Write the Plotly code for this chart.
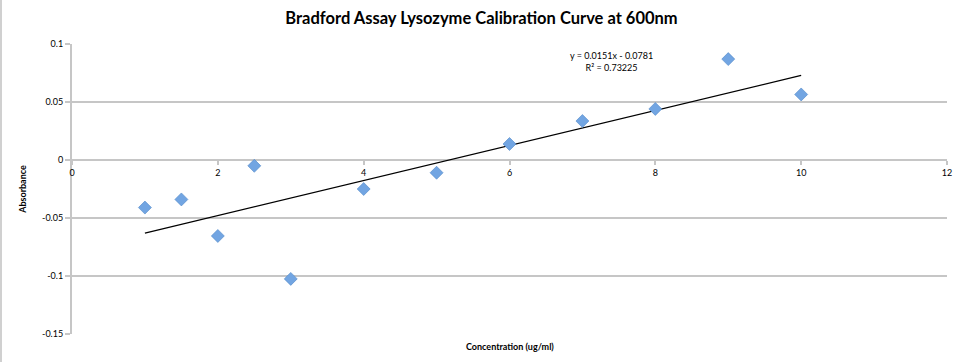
import plotly.graph_objects as go

# Data
concentration = [1, 1.5, 2, 2.5, 3, 4, 5, 6, 7, 8, 9, 10]
absorbance = [-0.041, -0.034, -0.0655, -0.005, -0.1025, -0.025, -0.011, 0.0138, 0.0336, 0.044, 0.087, 0.0565]
slope = 0.0151
intercept = -0.0781
r_squared = 0.73225
x_ticks = [0, 2, 4, 6, 8, 10, 12]
x_tick_labels = ["0", "2", "4", "6", "8", "10", "12"]
y_ticks = [0.1, 0.05, 0, -0.05, -0.1, -0.15]
y_tick_labels = ["0.1", "0.05", "0", "-0.05", "-0.1", "-0.15"]

trend_x = [min(concentration), max(concentration)]
trend_y = [slope * v + intercept for v in trend_x]

FONT = "Lato"
GRID = "#c6c6c6"

fig = go.Figure()
fig.add_trace(go.Scatter(
    x=trend_x, y=trend_y, mode="lines",
    line=dict(color="black", width=1.2), showlegend=False, hoverinfo="skip"))
fig.add_trace(go.Scatter(
    x=concentration, y=absorbance, mode="markers",
    marker=dict(symbol="diamond", size=10, color="#72a5e2",
                line=dict(color="#5088c8", width=0.6)),
    showlegend=False))

fig.update_layout(
    width=963, height=362,
    margin=dict(l=72, r=16, t=44, b=28, autoexpand=False),
    paper_bgcolor="white", plot_bgcolor="white",
    font=dict(family=FONT, size=9, color="black"),
    title=dict(text="<b>Bradford Assay Lysozyme Calibration Curve at 600nm</b>",
               x=0.5, xanchor="center", y=1 - 18 / 362, yanchor="middle",
               font=dict(family=FONT, size=16.5, color="black")),
    xaxis=dict(range=[0, 12], tickvals=x_ticks, ticktext=x_tick_labels,
               showgrid=False, zeroline=False, showline=False, automargin=False,
               anchor="free", position=0.6, ticks="outside", ticklen=4,
               tickcolor=GRID, tickwidth=1.5,
               tickfont=dict(family=FONT, size=9, color="black")),
    yaxis=dict(range=[-0.15, 0.1], tickvals=y_ticks, ticktext=y_tick_labels,
               showgrid=True, gridcolor=GRID, gridwidth=2, automargin=False,
               zeroline=False, showline=True, linecolor=GRID, linewidth=2,
               ticks="outside", ticklen=5, tickcolor=GRID, tickwidth=2,
               tickfont=dict(family=FONT, size=9, color="black"),
               title=dict(text="<b>Absorbance</b>", standoff=14,
                          font=dict(family=FONT, size=9, color="black"))),
    annotations=[
        dict(text="<b>Concentration (ug/ml)</b>", xref="paper", yref="paper",
             x=0.5, y=-5 / 290, xanchor="center", yanchor="top",
             showarrow=False, font=dict(family=FONT, size=9, color="black")),
        dict(text=f"y = {slope}x - {abs(intercept)}<br>R² = {r_squared}",
             xref="x", yref="y", x=7.4, y=0.085, xanchor="center", yanchor="middle",
             showarrow=False, align="center",
             font=dict(family=FONT, size=9, color="black")),
    ],
    shapes=[dict(type="line", xref="paper", yref="paper",
                 x0=-71 / 875, x1=-71 / 875, y0=-28 / 290, y1=1 + 44 / 290,
                 line=dict(color="#d0d0d0", width=2))],
)

fig.write_html("out.html", config={"displayModeBar": False},
               post_script="document.body.style.margin='0';document.body.style.overflow='hidden';")
